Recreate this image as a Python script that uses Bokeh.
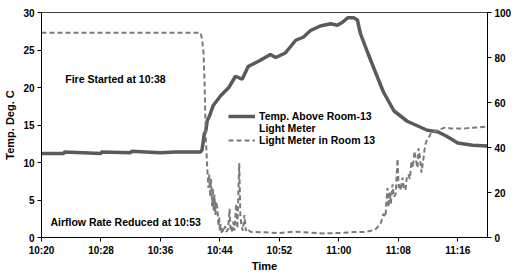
import math
from bokeh.plotting import figure
from bokeh.models import Range1d, LinearAxis, FixedTicker, Legend, LegendItem, Label
from bokeh.embed import file_html
from bokeh.resources import INLINE

# minutes after 10:20
tick_minutes = [0, 8, 16, 24, 32, 40, 48, 56]
tick_labels = ["10:20", "10:28", "10:36", "10:44", "10:52", "11:00", "11:08", "11:16"]

temp_t = [0, 3, 3.1, 8, 8.1, 12, 12.1, 16, 18, 21.4, 21.6, 21.9, 22.1, 22.3, 22.6, 23.1, 24.1, 25.2,
          26.1, 27.0, 27.8, 29.2, 30.8, 31.5, 32.8, 34.2, 35.2, 36.2, 37.5, 38.9, 39.8, 40.5,
          41.2, 42.0, 42.5, 42.9, 43.9, 44.9, 46.0, 47.4, 49.2, 51.9, 53.3, 54.5, 56.0, 58.0, 60.0]
temp_c = [11.2, 11.2, 11.4, 11.2, 11.4, 11.3, 11.5, 11.3, 11.4, 11.4, 11.7, 13.8, 14.2, 15.6, 16.2, 17.6, 18.9, 20.0,
          21.5, 21.1, 22.8, 23.5, 24.4, 24.0, 24.6, 26.3, 26.7, 27.6, 28.2, 28.5, 28.3, 28.7,
          29.3, 29.3, 29.0, 27.2, 24.6, 22.1, 19.4, 16.9, 15.5, 14.3, 14.1, 13.5, 12.6, 12.3, 12.2]

light_t = [0, 21.4, 21.6, 21.8, 21.93, 22.1, 22.3, 22.45, 22.55, 22.7, 22.8, 22.95, 23.05, 23.15,
           23.27, 23.4, 23.5, 23.68, 23.8, 23.9, 24.0, 24.1, 24.25, 24.35, 24.5, 24.7, 24.9, 25.1,
           25.3, 25.45, 25.6, 25.8, 25.95, 26.2, 26.35, 26.6, 26.75, 26.9, 27.1, 27.3, 27.5, 27.7,
           28.1, 30, 32, 34, 36, 38, 40, 42, 43.6, 44.3, 44.9, 45.6, 46.0, 46.28, 46.4, 46.55,
           46.68, 46.85, 47.0, 47.22, 47.4, 47.63, 47.75, 47.9, 48.05, 48.16, 48.35, 48.57, 48.75,
           48.97, 49.15, 49.37, 49.55, 49.78, 49.95, 50.18, 50.4, 50.59, 50.72, 50.9, 51.12, 51.3,
           51.53, 51.7, 51.93, 52.2, 52.47, 53.28, 54.35, 55, 57, 60]
light_mv = [91, 91, 88, 82, 70, 45, 31, 22, 28, 18, 26, 14, 22, 12,
            19, 10, 16, 12.7, 5, 9, 3, 6, 2, 4, 2.5, 5, 2.5, 4,
            12.7, 3, 2.5, 7, 3, 15, 4, 33, 10, 5, 3, 10, 3, 4,
            2.5, 2.3, 2.0, 2.6, 2.2, 1.8, 2.0, 2.4, 2.5, 3, 3.5, 6, 10.5, 9.2, 16, 22,
            13.5, 20, 15, 23.6, 18, 19, 26, 35, 22, 23.6, 21, 26.6, 22,
            21, 27, 28, 26, 34, 31, 38.4, 34, 31, 39.7, 36, 28.8, 33,
            39, 42, 44, 45, 47, 47.6, 49, 48.5, 48.5, 49.3]

FONT = "Liberation Sans"
TEMP_COLOR = "#5a5a5a"
LIGHT_COLOR = "#7a7a7a"

p = figure(width=520, height=274, output_backend="svg", toolbar_location=None,
           x_range=Range1d(0, 60), y_range=Range1d(0, 30),
           min_border_left=41, min_border_right=33, min_border_top=12, min_border_bottom=33)
p.extra_y_ranges = {"mv": Range1d(0, 100)}
p.xgrid.visible = False
p.ygrid.visible = False
p.outline_line_color = "#404040"
p.outline_line_width = 1
p.background_fill_color = "white"
p.border_fill_color = "white"

r_temp = p.line(temp_t, temp_c, line_color=TEMP_COLOR, line_width=3.5)
r_light = p.line(light_t, light_mv, y_range_name="mv", line_color=LIGHT_COLOR,
                 line_width=2, line_dash="5 3")
r_dummy = p.line([0, 0], [0, 0], line_alpha=0)

def style_axis(ax):
    ax.axis_line_color = "black"
    ax.major_tick_line_color = "black"
    ax.major_tick_in = 0
    ax.major_tick_out = 4
    ax.minor_tick_line_color = None
    ax.major_label_text_font = FONT
    ax.major_label_text_font_style = "bold"
    ax.major_label_text_font_size = "10px"
    ax.major_label_text_color = "black"
    ax.major_label_standoff = 3
    ax.axis_label_text_font = FONT
    ax.axis_label_text_font_style = "bold"
    ax.axis_label_text_font_size = "11px"
    ax.axis_label_text_color = "black"

xa = p.xaxis[0]
xa.ticker = FixedTicker(ticks=tick_minutes)
xa.major_label_overrides = {m: l for m, l in zip(tick_minutes, tick_labels)}
xa.axis_label = "Time"
xa.axis_label_standoff = 1
style_axis(xa)

ya = p.yaxis[0]
ya.ticker = FixedTicker(ticks=[0, 5, 10, 15, 20, 25, 30])
ya.axis_label = "Temp. Deg. C"
ya.axis_label_standoff = 4
style_axis(ya)

ra = LinearAxis(y_range_name="mv", ticker=FixedTicker(ticks=[0, 20, 40, 60, 80, 100]))
style_axis(ra)
p.add_layout(ra, "right")

legend = Legend(items=[
    LegendItem(label="Temp. Above Room-13", renderers=[r_temp]),
    LegendItem(label="Light Meter", renderers=[r_dummy]),
    LegendItem(label="Light Meter in Room 13", renderers=[r_light]),
], location=(187, 91))
legend.label_text_font = FONT
legend.label_text_font_style = "bold"
legend.label_text_font_size = "10.5px"
legend.label_text_color = "black"
legend.label_height = 10
legend.glyph_height = 10
legend.glyph_width = 27
legend.label_standoff = 4
legend.spacing = 0
legend.padding = 0
legend.margin = 0
legend.border_line_color = None
legend.background_fill_alpha = 0
p.add_layout(legend)

for txt, xx, yy in [("Fire Started at 10:38", 3.2, 21.2),
                    ("Airflow Rate Reduced at 10:53", 1.2, 2.1)]:
    p.add_layout(Label(x=xx, y=yy, text=txt, text_font=FONT, text_font_style="bold",
                       text_font_size="10.5px", text_color="black", text_baseline="middle"))

p.add_layout(Label(x=63.2, y=14.9, text="mV", angle=math.pi / 2, text_font=FONT,
                   text_font_style="bold", text_font_size="11px", text_color="black",
                   text_align="center", text_baseline="middle"))

open("out.html", "w").write(file_html(p, INLINE))
